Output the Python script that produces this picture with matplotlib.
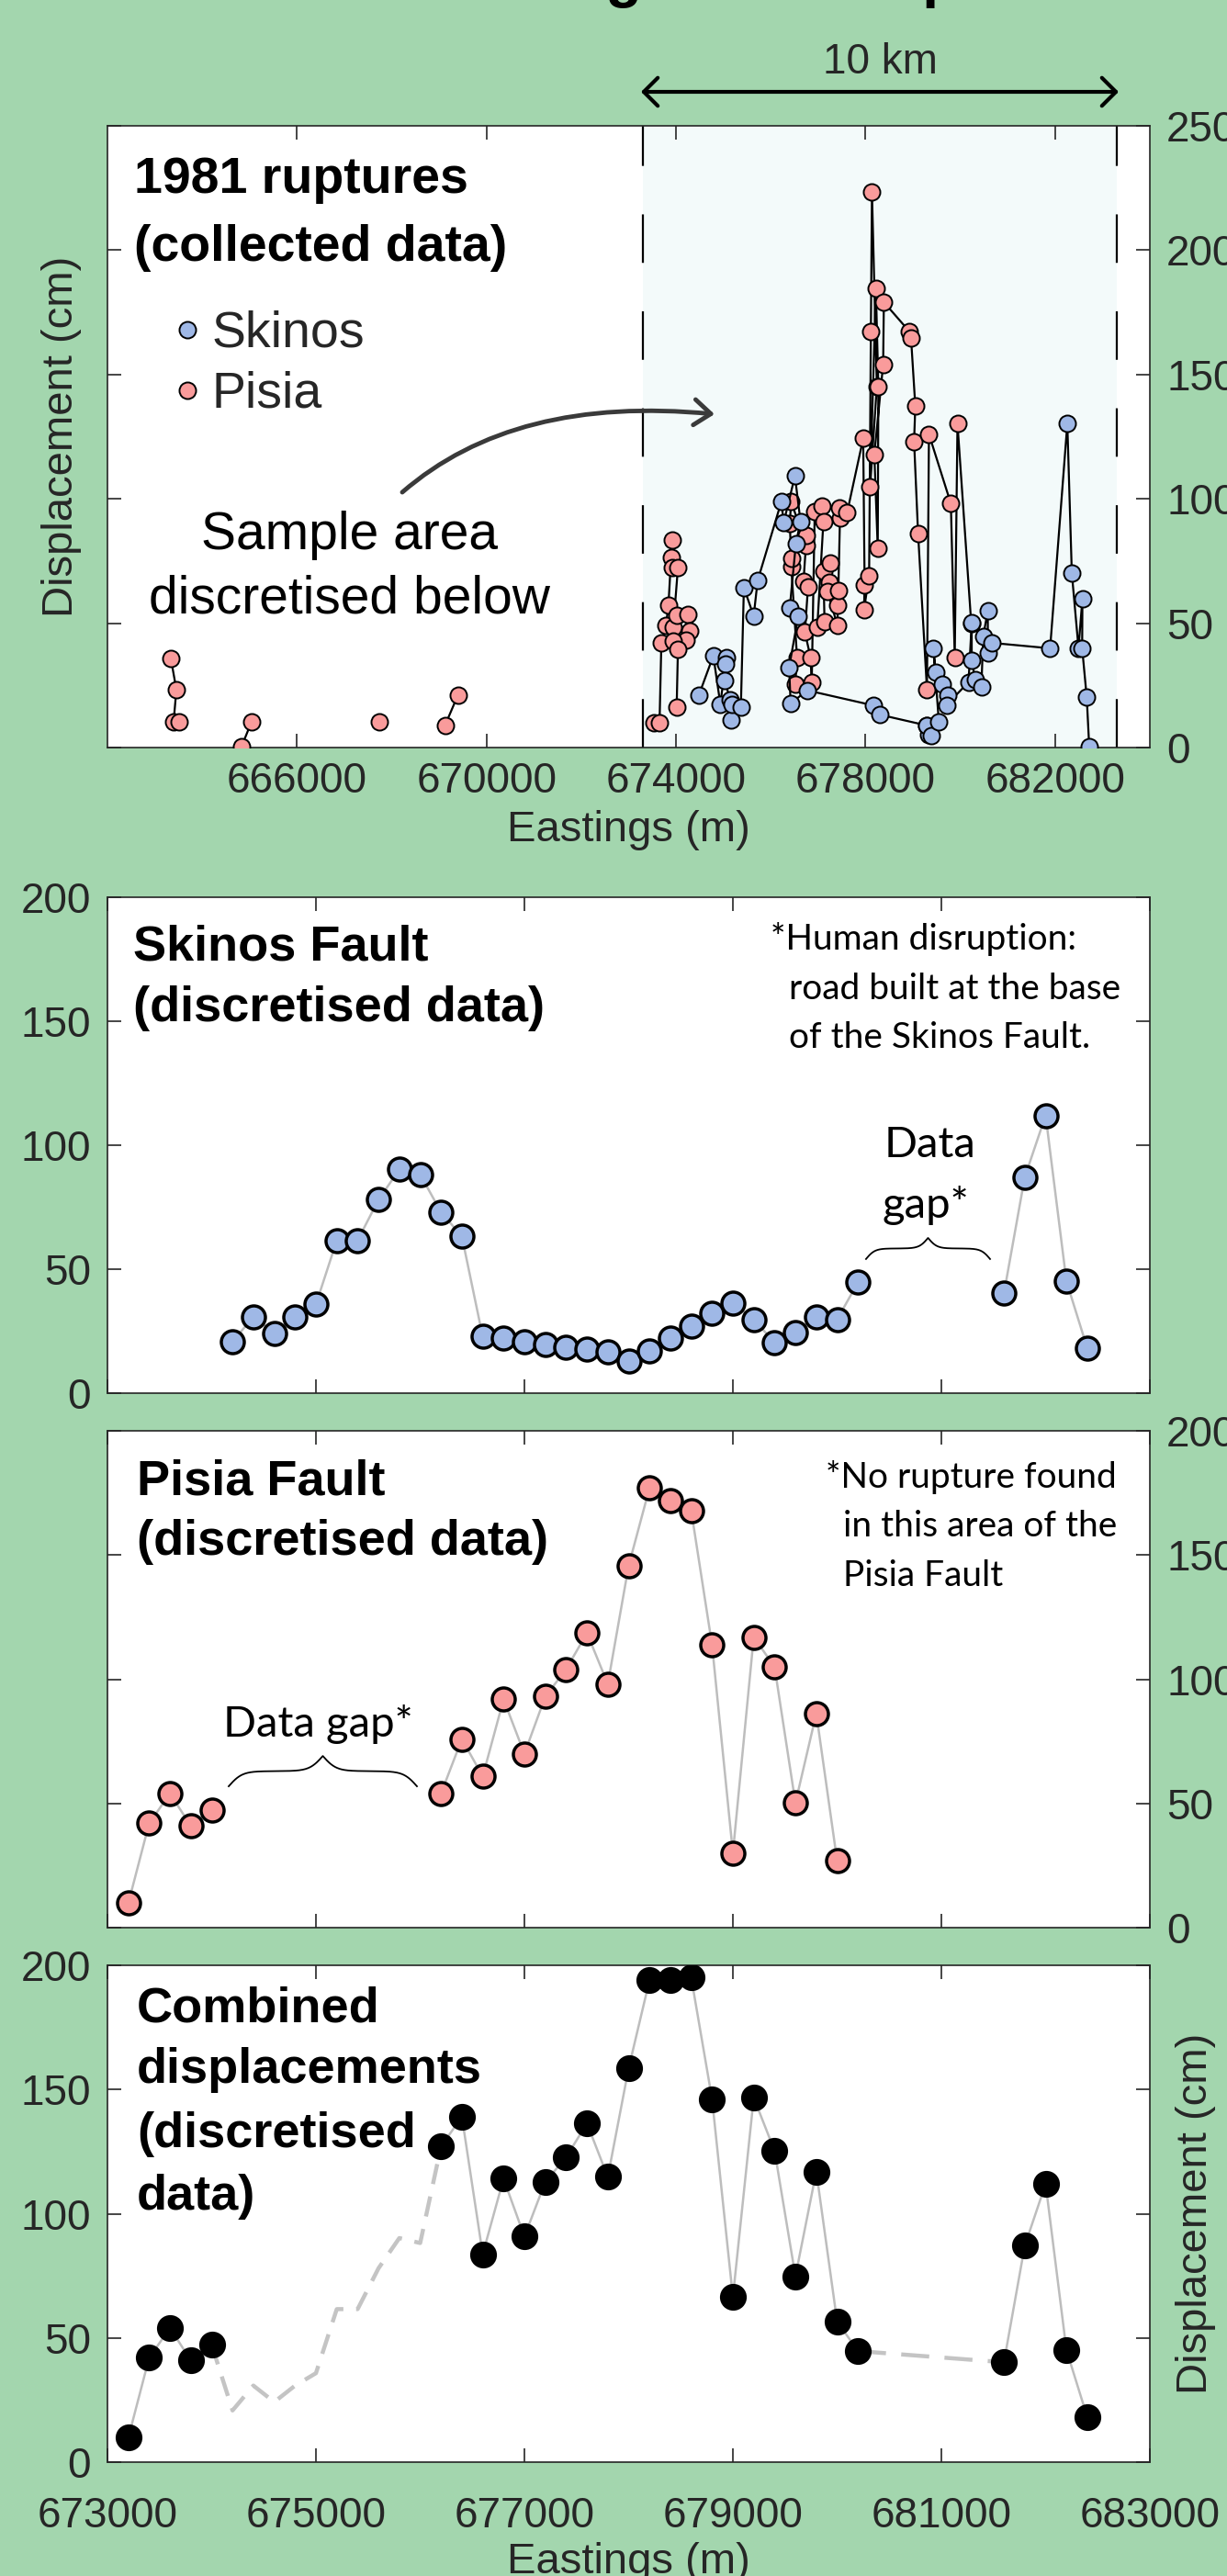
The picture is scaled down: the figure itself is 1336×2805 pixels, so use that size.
import numpy as np
import matplotlib.pyplot as plt
from matplotlib.lines import Line2D
from matplotlib.patches import FancyArrowPatch
from matplotlib.path import Path

W, H, DPI = 1336, 2805, 100
nan = np.nan

green = '#a3d6ae'
blue = '#9fb8e6'
pink = '#f99b9b'
ink = '#262626'

# ---- collected data (top panel), nan = break in the line ----
skinos_raw_east = [674484, 674787, 674935, 675064, 675045, 675026, 675142, 675161, 675186, 675368,
                   675432, 675639, 675722, 676225, 676270, 676509, 676626, 676529, 676400, 676580,
                   676386, 676419, 676767, 678174, 678303, 679288, 679335, 679283, 679380, 679547,
                   679432, 679476, 679625, 679734, 679708, 680173, 680240, 680240, 680315, 680444,
                   680483, 680580, 680580, 680657, 681895, 682258, 682353, 682494, 682577, 682571,
                   682668, 682720]
skinos_raw_disp = [21.2, 36.9, 17.5, 36.2, 33.6, 27.1, 19.2, 11.0, 17.5, 16.2,
                   64.3, 52.9, 67.1, 99.0, 90.3, 109.2, 91.0, 81.9, 56.2, 52.9,
                   32.2, 17.7, 23.0, 16.9, 13.2, 8.9, 5.2, 9.0, 4.9, 10.3,
                   39.9, 30.4, 25.5, 21.2, 17.1, 26.3, 50.1, 35.0, 27.3, 24.2,
                   44.8, 55.0, 38.1, 42.1, 39.9, 130.2, 70.2, 40.0, 59.9, 40.0,
                   20.2, 0.5]

pisia_raw_east = [663338, 663455, 663396, 663512, nan, 664828, 665040, nan, 667730, nan,
                  669124, 669395, nan,
                  673530, 673652, 673690, 673787, 673839, 673917, 673903, 673917, 674040, 673942,
                  674013, 674252, 674290, 674207, 673942, 674040, 674013, nan,
                  676516, 676554, 676432, 676432, 676400, 676430, 676742, 676755, 676690, 676786,
                  676720, 676839, 676864, 676927, 677076, 677111, 676980, 677134, 677110, 677255,
                  677238, 677203, 677405, 677415, 677425, 677460, 677440, 677610, 677950, 677980,
                  677967, 678075, 678112, 678135, 678238, 678096, 678218, 678270, 678257, 678185,
                  678371, 678386, 678925, 678960, 679050, 679024, 679108, 679296, 679338, 679800,
                  679882, 679940, 680230]
pisia_raw_disp = [35.8, 23.3, 10.3, 10.3, nan, 0.3, 10.3, nan, 10.3, nan,
                  8.9, 21.0, nan,
                  10.1, 10.1, 42.1, 49.1, 57.1, 83.3, 76.4, 72.3, 72.3, 48.4,
                  53.2, 53.5, 47.0, 43.3, 42.8, 39.5, 16.2, nan,
                  25.5, 36.2, 72.8, 75.9, 90.1, 99.0, 81.2, 85.2, 66.7, 64.8,
                  46.4, 36.2, 26.3, 95.0, 97.1, 91.0, 48.2, 50.6, 71.0, 74.1,
                  66.4, 62.6, 49.1, 57.1, 63.0, 92.2, 96.3, 94.4, 124.3, 65.5,
                  55.3, 69.2, 167.3, 223.3, 145.2, 104.9, 184.6, 145.2, 80.2, 117.8,
                  154.1, 179.1, 167.3, 164.6, 137.3, 123.1, 86.2, 23.3, 126.0, 98.1,
                  36.2, 130.2, 50.0]

sample_area = (673300, 683300)

# ---- discretised data (200 m bins) ----
skinos_east = [674200, 674400, 674600, 674800, 675000, 675200, 675400, 675600, 675800, 676000,
               676200, 676400, 676600, 676800, 677000, 677200, 677400, 677600, 677800, 678000,
               678200, 678400, 678600, 678800, 679000, 679200, 679400, 679600, 679800, 680000,
               680200, 681600, 681800, 682000, 682200, 682400]
skinos_disp = [20.8, 30.8, 24.2, 30.8, 35.8, 61.6, 61.6, 78.0, 90.2, 88.2,
               73.0, 63.2, 22.8, 22.2, 20.8, 19.8, 18.7, 17.8, 16.7, 12.9,
               17.0, 22.2, 27.2, 32.4, 36.3, 29.7, 20.4, 24.6, 30.8, 29.7,
               44.7, 40.2, 87.1, 112.0, 45.1, 18.1]

pisia_east = [673200, 673400, 673600, 673800, 674000,
              676200, 676400, 676600, 676800, 677000, 677200, 677400, 677600, 677800, 678000,
              678200, 678400, 678600, 678800, 679000, 679200, 679400, 679600, 679800, 680000]
pisia_disp = [9.8, 42.0, 54.0, 40.9, 47.2,
              54.0, 75.9, 60.9, 91.9, 70.0, 93.0, 104.0, 118.6, 98.1, 145.7,
              177.0, 172.0, 167.9, 113.8, 30.1, 117.0, 104.9, 50.2, 86.2, 26.9]

pisia_gap = (674000, 676200)
skinos_gap = (680200, 681600)

# combined = sum of both faults where discretised bins exist
sk = dict(zip(skinos_east, skinos_disp))
pi = dict(zip(pisia_east, pisia_disp))
comb_east = sorted(set(pisia_east) | {e for e in skinos_east if not pisia_gap[0] < e < pisia_gap[1]})
comb_disp = [pi.get(e, 0) + sk.get(e, 0) for e in comb_east]
cb = dict(zip(comb_east, comb_disp))


def with_gaps(east, disp, step=200):
    xs, ys = [east[0]], [disp[0]]
    for a, b, d in zip(east[:-1], east[1:], disp[1:]):
        if b - a > step:
            xs.append(nan)
            ys.append(nan)
        xs.append(b)
        ys.append(d)
    return xs, ys


plt.rcParams['font.family'] = ['Liberation Sans', 'DejaVu Sans']
plt.rcParams['lines.scale_dashes'] = False
note_font = ['Lato', 'DejaVu Sans']

fig = plt.figure(figsize=(W / DPI, H / DPI), dpi=DPI, facecolor=green)


def fx(px):
    return px / W


def fy(py):
    return 1 - py / H


def panel(top, bottom):
    return fig.add_axes([fx(117), fy(bottom), (1252 - 117) / W, (bottom - top) / H])


def style(ax):
    for s in ax.spines.values():
        s.set_color(ink)
        s.set_linewidth(1.2)
    ax.tick_params(direction='in', length=11, width=1.2, color=ink, labelcolor=ink,
                   labelsize=33, top=True, right=True, pad=13)


def brace(ax, x0, x1, y_end, y_tip, k=14):
    t = np.linspace(0, 1, 200)
    g = 1 / (1 + np.exp(-k * t)) + 1 / (1 + np.exp(-k * (t - 1))) - 0.5
    g = (g - g[0]) / (g[-1] - g[0])
    xm = (x0 + x1) / 2
    xs = np.concatenate([x0 + t * (xm - x0), xm + t * (x1 - xm)])
    ys = np.concatenate([g, g[::-1]])
    ax.plot(xs, y_end + ys * (y_tip - y_end), color='k', lw=1.3, zorder=4)


def ftext(x, y, s, **kw):
    kw.setdefault('va', 'baseline')
    fig.text(fx(x), fy(y), s, **kw)


disc_ticks = [673000, 675000, 677000, 679000, 681000, 683000]
disc_yticks = [0, 50, 100, 150, 200]

# ---------------- top panel: collected data ----------------
ax0 = panel(137, 814)
style(ax0)
ax0.axvspan(*sample_area, color='#f3fafa', lw=0, zorder=0)
for x in sample_area:
    ax0.axvline(x, color='k', lw=1.6, ls=(0, (38, 38)), zorder=1)
ax0.plot(pisia_raw_east, pisia_raw_disp, '-o', color='k', lw=1.6, ms=13, mfc=pink, mec='k',
         mew=1.4, zorder=3)
ax0.plot(skinos_raw_east, skinos_raw_disp, '-o', color='k', lw=1.6, ms=13, mfc=blue, mec='k',
         mew=1.4, zorder=3)
ax0.set_xlim(662000, 684000)
ax0.set_ylim(0, 250)
top_ticks = [666000, 670000, 674000, 678000, 682000]
ax0.set_xticks(top_ticks, labels=[str(t) for t in top_ticks])
ax0.set_yticks(range(0, 251, 50), labels=[str(t) for t in range(0, 251, 50)])
ax0.tick_params(labelleft=False, labelright=True)
ax0.tick_params(axis='x', pad=11)
ax0.set_xlabel('Eastings (m)', fontsize=34, color=ink, labelpad=6)
ax0.set_ylabel('Displacement (cm)', fontsize=34, color=ink, labelpad=20)

ftext(146, 210, '1981 ruptures', fontsize=40, weight='bold')
ftext(146, 284, '(collected data)', fontsize=40, weight='bold')
for yy, col, name in [(359, blue, 'Skinos'), (425, pink, 'Pisia')]:
    fig.add_artist(Line2D([fx(204)], [fy(yy)], marker='o', ms=13, mfc=col, mec='k', mew=1.4,
                          transform=fig.transFigure))
    ftext(231, yy + 18, name, fontsize=40, color=ink)
ftext(380, 598, 'Sample area', fontsize=41, ha='center')
ftext(380, 668, 'discretised below', fontsize=41, ha='center')

curve = Path([(fx(438), fy(536)), (fx(560), fy(430)), (fx(778), fy(451))],
             [Path.MOVETO, Path.CURVE3, Path.CURVE3])
fig.add_artist(FancyArrowPatch(path=curve, arrowstyle='->,head_length=0.65,head_width=0.5',
                               mutation_scale=20, lw=3.5, color='#3a3a3a',
                               transform=fig.transFigure))

# scale bar
fig.add_artist(FancyArrowPatch((fx(698), fy(100)), (fx(1218), fy(100)),
                               arrowstyle='<->,head_length=0.55,head_width=0.55',
                               mutation_scale=20, lw=3, color='k', shrinkA=0, shrinkB=0,
                               transform=fig.transFigure))
ftext(958, 80, '10 km', fontsize=33, color=ink, ha='center')

# title cut off at the top edge, only descenders show
ftext(516, -4, 'Along-strike displacement', fontsize=46.5, weight='bold')

# ---------------- Skinos Fault ----------------
ax1 = panel(977, 1517)
style(ax1)
xs, ys = with_gaps(skinos_east, skinos_disp)
ax1.plot(xs, ys, '-', color='#bdbdbd', lw=1.8, zorder=2)
ax1.plot(skinos_east, skinos_disp, 'o', ms=18, mfc=blue, mec='k', mew=2.5, zorder=3)
ax1.set_xlim(673000, 683000)
ax1.set_ylim(0, 200)
ax1.set_xticks(disc_ticks)
ax1.set_yticks(disc_yticks, labels=[str(t) for t in disc_yticks])
ax1.tick_params(labelbottom=False)
brace(ax1, 680277, 681467, 54.1, 62.6)

ftext(145, 1045, 'Skinos Fault', fontsize=39, weight='bold')
ftext(145, 1112, '(discretised data)', fontsize=39, weight='bold')
ftext(839, 1034, '*Human disruption:', fontsize=28, family=note_font)
ftext(859, 1088, 'road built at the base', fontsize=28, family=note_font)
ftext(859, 1141, 'of the Skinos Fault.', fontsize=28, family=note_font)
ftext(963, 1260, 'Data', fontsize=34, family=note_font)
ftext(961, 1326, 'gap*', fontsize=34, family=note_font)

# ---------------- Pisia Fault ----------------
ax2 = panel(1558, 2099)
style(ax2)
xs, ys = with_gaps(pisia_east, pisia_disp)
ax2.plot(xs, ys, '-', color='#bdbdbd', lw=1.8, zorder=2)
ax2.plot(pisia_east, pisia_disp, 'o', ms=18, mfc=pink, mec='k', mew=2.5, zorder=3)
ax2.set_xlim(673000, 683000)
ax2.set_ylim(0, 200)
ax2.set_xticks(disc_ticks)
ax2.set_yticks(disc_yticks, labels=[str(t) for t in disc_yticks])
ax2.tick_params(labelbottom=False, labelleft=False, labelright=True)
brace(ax2, 674163, 675969, 56.9, 69.1)

ftext(149, 1627, 'Pisia Fault', fontsize=39, weight='bold')
ftext(149, 1693, '(discretised data)', fontsize=39, weight='bold')
ftext(899, 1620, '*No rupture found', fontsize=28, family=note_font)
ftext(918, 1673, 'in this area of the', fontsize=28, family=note_font)
ftext(918, 1727, 'Pisia Fault', fontsize=28, family=note_font)
ftext(243, 1891, 'Data gap*', fontsize=34, family=note_font)

# ---------------- Combined ----------------
ax3 = panel(2140, 2681)
style(ax3)
xs, ys = with_gaps(comb_east, comb_disp)
ax3.plot(xs, ys, '-', color='#bdbdbd', lw=1.8, zorder=2)
gap_e = [pisia_gap[0]] + [e for e in skinos_east if pisia_gap[0] < e < pisia_gap[1]] + [pisia_gap[1]]
gap_d = [cb[pisia_gap[0]]] + [sk[e] for e in gap_e[1:-1]] + [cb[pisia_gap[1]]]
ax3.plot(gap_e, gap_d, color='#c4c4c4', lw=3.2, ls=(0, (16, 10)), zorder=2)
ax3.plot(list(skinos_gap), [cb[skinos_gap[0]], cb[skinos_gap[1]]], color='#c4c4c4', lw=3.2,
         ls=(0, (22, 12)), zorder=2)
ax3.plot(comb_east, comb_disp, 'o', ms=21, mfc='k', mec='k', mew=0, zorder=3)
ax3.set_xlim(673000, 683000)
ax3.set_ylim(0, 200)
ax3.set_xticks(disc_ticks, labels=[str(t) for t in disc_ticks])
ax3.set_yticks(disc_yticks, labels=[str(t) for t in disc_yticks])
ax3.tick_params(axis='x', pad=27)
ax3.set_xlabel('Eastings (m)', fontsize=34, color=ink, labelpad=4)
ax3.yaxis.set_label_position('right')
ax3.set_ylabel('Displacement (cm)', fontsize=34, color=ink, labelpad=20)

for i, line in enumerate(['Combined', 'displacements', '(discretised', 'data)']):
    ftext(149, [2201, 2268, 2338, 2406][i], line, fontsize=39, weight='bold')

fig.savefig('out.png', dpi=DPI, facecolor=green)
